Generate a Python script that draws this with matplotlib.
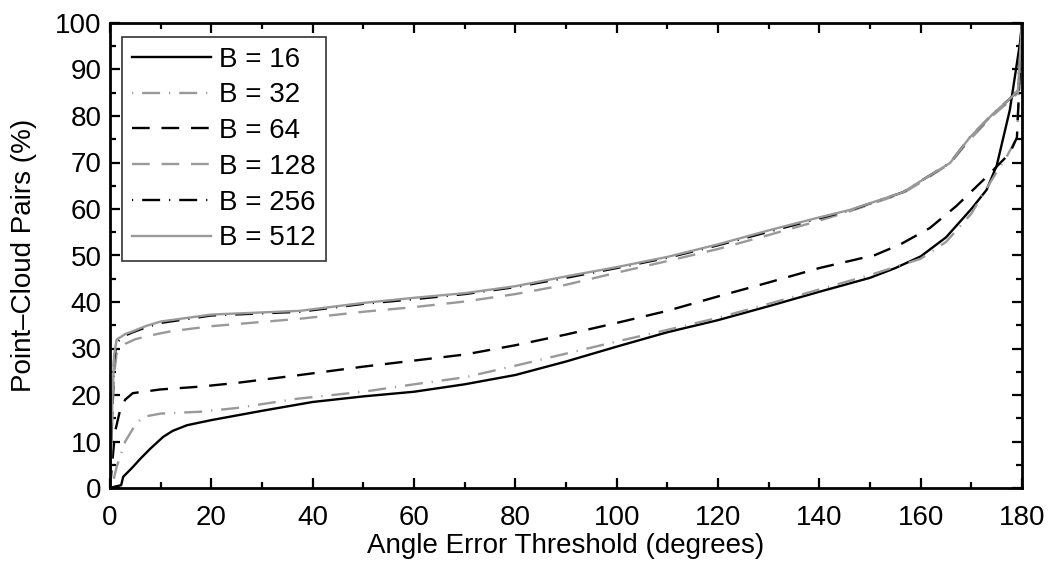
import matplotlib
matplotlib.use("Agg")
import matplotlib.pyplot as plt
from matplotlib.ticker import MultipleLocator

plt.rcParams['font.family'] = ['Liberation Sans', 'DejaVu Sans']

labels = ["B = 16", "B = 32", "B = 64", "B = 128", "B = 256", "B = 512"]

x16 = [0, 1, 2.2, 2.6, 4.5, 6, 7.9, 10.5, 12.4, 15.2, 17.8, 20, 30, 40, 50, 60, 70, 80, 90, 100, 110, 120, 130, 140, 150, 155, 160, 165, 170, 173, 175, 177.6, 179.6, 180]
y16 = [0, 0.3, 0.6, 2.4, 4.5, 6.3, 8.4, 11, 12.3, 13.5, 14.1, 14.6, 16.6, 18.5, 19.7, 20.7, 22.3, 24.3, 27.2, 30.4, 33.5, 36.1, 39.1, 42.2, 45.2, 47.3, 49.8, 53.9, 60, 64.1, 69.3, 81.3, 95.7, 100]

x32 = [0, 0.5, 1.3, 3, 5, 6.5, 10, 17.8, 25, 37, 50, 60, 70, 80, 90, 100, 110, 120, 130, 140, 150, 160, 165, 170, 174, 177, 179, 180]
y32 = [0, 0.8, 4.5, 10, 13.6, 15.3, 16, 16.4, 17.2, 19.2, 20.7, 22.3, 23.8, 26.3, 28.9, 31.5, 34, 36.6, 39.6, 42.7, 45.8, 49.3, 52.9, 59, 66.2, 71.3, 75.4, 100]

x64 = [0, 0.4, 1, 2, 3, 4.5, 10, 17.8, 25, 37.5, 50, 60, 70, 80, 90, 100, 110, 120, 130, 140, 151, 156, 161.8, 167, 173, 177.6, 179, 180]
y64 = [0, 4.9, 12.1, 16.8, 19, 20.4, 21.2, 21.8, 22.6, 24.3, 26.1, 27.4, 28.7, 30.7, 33, 35.5, 38.1, 41.2, 44.2, 47.3, 50.1, 52.4, 55.9, 60.6, 66.9, 72, 75.4, 100]

x128 = [0, 0.3, 0.8, 1.3, 3, 5, 7.9, 12, 20, 37.5, 50, 60, 70, 80, 90, 100, 110, 120, 130, 140, 146, 156.5, 160, 165.8, 169.7, 174.3, 178, 179.2, 180]
y128 = [0, 10, 24.3, 28.9, 31, 32, 32.8, 33.7, 34.8, 36.4, 37.9, 38.9, 40.1, 41.7, 43.7, 46.3, 48.8, 51.4, 54.4, 57.5, 59.5, 63.4, 65.7, 69.8, 74.9, 80.2, 83.6, 85, 100]

x256 = [0, 0.3, 0.8, 1.3, 3, 4.5, 7, 10, 20, 37.5, 50, 60, 70, 80, 90, 100, 110, 120, 130, 140, 146, 156.5, 160, 165.8, 169.7, 174.3, 178, 179.2, 180]
y256 = [0, 12, 27.4, 31.3, 32.8, 33.5, 34.5, 35.5, 37.1, 37.9, 39.6, 40.6, 41.7, 43.2, 45.2, 47.3, 49.5, 52.2, 55.1, 58, 59.7, 63.6, 66, 69.9, 75.4, 80.5, 84.1, 85.6, 100]

x512 = [0, 0.3, 0.8, 1.3, 3, 4.5, 7, 10, 20, 37.5, 50, 60, 70, 80, 90, 100, 110, 120, 130, 140, 146, 156.5, 160, 165.8, 169.7, 174.3, 178, 179.2, 180]
y512 = [0, 13.1, 28.4, 31.9, 33.1, 33.7, 34.8, 35.8, 37.3, 38.1, 39.8, 40.9, 41.9, 43.4, 45.5, 47.5, 49.7, 52.4, 55.4, 58.2, 59.8, 63.6, 66, 69.9, 75.4, 80.5, 84.1, 85.6, 100]

GRAY = '#999999'
DASHDOT = (0, (0.5, 3.8, 7.6, 3.8))
DASH = (0, (7.5, 5))
styles = [
    dict(color='black', linestyle='-'),
    dict(color=GRAY, linestyle=DASHDOT),
    dict(color='black', linestyle=DASH),
    dict(color=GRAY, linestyle=DASH),
    dict(color='black', linestyle=DASHDOT),
    dict(color=GRAY, linestyle='-'),
]
series = [(x16, y16), (x32, y32), (x64, y64), (x128, y128), (x256, y256), (x512, y512)]

fig = plt.figure(figsize=(10.49, 5.61), dpi=100)
ax = fig.add_axes([110 / 1049, 73 / 561, 912 / 1049, 465 / 561])

for (xs, ys), st, lab in zip(series, styles, labels):
    ax.plot(xs, ys, linewidth=1.7, label=lab, **st)

ax.set_xlim(0, 180)
ax.set_ylim(0, 100)
ax.xaxis.set_major_locator(MultipleLocator(20))
ax.xaxis.set_minor_locator(MultipleLocator(10))
ax.yaxis.set_major_locator(MultipleLocator(10))
ax.yaxis.set_minor_locator(MultipleLocator(5))
ax.tick_params(which='both', direction='in', top=True, right=True, labelsize=20, width=1.6)
ax.tick_params(which='major', length=7)
ax.tick_params(which='minor', length=4)
ax.tick_params(axis='y', which='major', pad=6)
ax.tick_params(axis='x', which='major', pad=12)
for s in ax.spines.values():
    s.set_linewidth(2)

ax.set_xlabel("Angle Error Threshold (degrees)", fontsize=20, labelpad=2)
ax.set_ylabel("Point–Cloud Pairs (%)", fontsize=20, labelpad=13)

leg = ax.legend(loc='upper left', fontsize=20, frameon=True, fancybox=False,
                edgecolor='black', handlelength=2.85, handletextpad=0.3,
                labelspacing=0.35, borderpad=0.35, borderaxespad=0,
                bbox_to_anchor=(12 / 912, 1 - 14 / 465))
leg.get_frame().set_linewidth(1.2)

fig.savefig("out.png", dpi=100)
